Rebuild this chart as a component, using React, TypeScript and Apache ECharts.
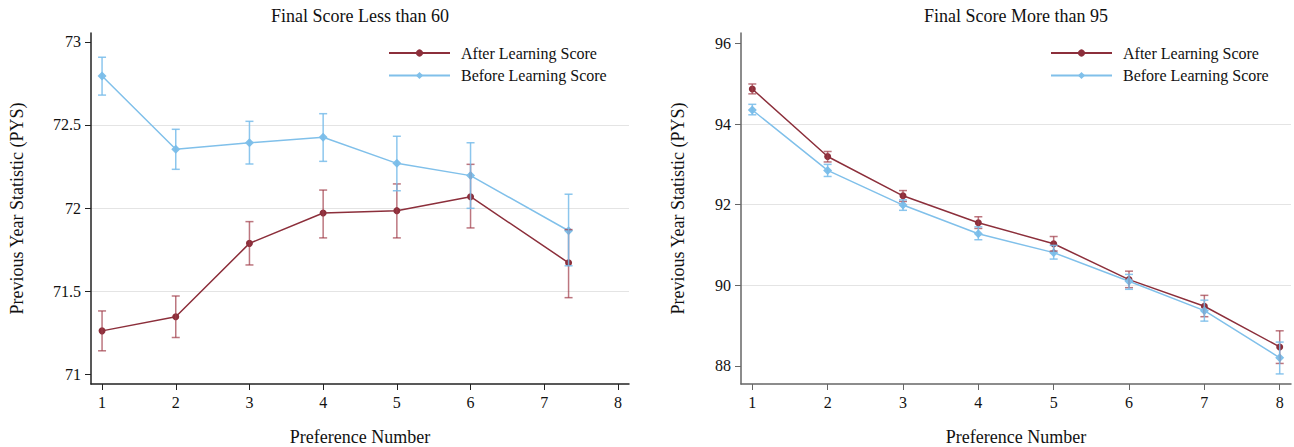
import React, { useEffect, useRef } from "react";
import * as echarts from "echarts";

const seriesNames = ["After Learning Score", "Before Learning Score"];
const titles = ["Final Score Less than 60", "Final Score More than 95"];
const xTicks = [1, 2, 3, 4, 5, 6, 7, 8];
const leftYTicks = [71, 71.5, 72, 72.5, 73];
const rightYTicks = [88, 90, 92, 94, 96];

const leftX = [1, 2, 3, 4, 5, 6, 7.33];
const leftAfter = [71.26, 71.345, 71.787, 71.97, 71.984, 72.068, 71.67];
const leftAfterLow = [71.14, 71.22, 71.657, 71.82, 71.82, 71.88, 71.46];
const leftAfterHigh = [71.38, 71.47, 71.918, 72.108, 72.145, 72.263, 71.87];
const leftBefore = [72.795, 72.354, 72.393, 72.426, 72.269, 72.195, 71.863];
const leftBeforeLow = [72.68, 72.233, 72.265, 72.281, 72.104, 71.998, 71.652];
const leftBeforeHigh = [72.908, 72.474, 72.522, 72.568, 72.432, 72.393, 72.083];

const rightX = [1, 2, 3, 4, 5, 6, 7, 8];
const rightAfter = [94.87, 93.196, 92.22, 91.55, 91.03, 90.14, 89.48, 88.47];
const rightAfterLow = [94.75, 93.06, 92.08, 91.41, 90.85, 89.94, 89.22, 88.06];
const rightAfterHigh = [94.995, 93.32, 92.35, 91.7, 91.21, 90.35, 89.75, 88.87];
const rightBefore = [94.35, 92.85, 91.99, 91.28, 90.81, 90.1, 89.37, 88.2];
const rightBeforeLow = [94.23, 92.7, 91.86, 91.13, 90.65, 89.9, 89.11, 87.8];
const rightBeforeHigh = [94.49, 93.0, 92.12, 91.45, 90.99, 90.27, 89.63, 88.59];

const FONT = "'Liberation Serif', 'Times New Roman', serif";
const RED = "#8c2f3b";
const RED_BAR = "rgba(160,60,72,0.7)";
const BLUE = "#80c0ea";
const BLUE_BAR = "rgba(120,188,234,0.85)";
const TXT = "#111";

function lineSeries(name: string, xs: number[], ys: number[], color: string, symbol: string, size: number, idx: number) {
  return {
    type: "line",
    name,
    xAxisIndex: idx,
    yAxisIndex: idx,
    data: xs.map((x, i) => [x, ys[i]]),
    symbol,
    symbolSize: size,
    showAllSymbol: true,
    lineStyle: { color, width: 1.5 },
    itemStyle: { color },
    z: 2,
  };
}

function errSeries(name: string, xs: number[], lo: number[], hi: number[], color: string, idx: number) {
  return {
    type: "custom",
    name,
    xAxisIndex: idx,
    yAxisIndex: idx,
    silent: true,
    z: 3,
    data: xs.map((x, i) => [x, lo[i], hi[i]]),
    encode: { x: 0, y: [1, 2] },
    renderItem: (_p: any, api: any) => {
      const x = api.value(0);
      const a = api.coord([x, api.value(1)]);
      const b = api.coord([x, api.value(2)]);
      const hw = 4;
      const st = { stroke: color, lineWidth: 1.5 };
      return {
        type: "group",
        children: [
          { type: "line", shape: { x1: a[0], y1: a[1], x2: b[0], y2: b[1] }, style: st },
          { type: "line", shape: { x1: a[0] - hw, y1: a[1], x2: a[0] + hw, y2: a[1] }, style: st },
          { type: "line", shape: { x1: b[0] - hw, y1: b[1], x2: b[0] + hw, y2: b[1] }, style: st },
        ],
      };
    },
  };
}

function xAxis(idx: number, axisColor: string) {
  return {
    type: "value",
    gridIndex: idx,
    min: 0.85,
    max: 8.15,
    axisLine: { show: true, onZero: false, lineStyle: { color: axisColor, width: 1.5 } },
    axisTick: { show: true, length: 6, customValues: xTicks, lineStyle: { color: axisColor, width: 1 } },
    axisLabel: { customValues: xTicks, fontSize: 16, color: TXT, fontFamily: FONT, margin: 10 },
    splitLine: { show: false },
    name: "Preference Number",
    nameLocation: "middle",
    nameGap: 44,
    nameTextStyle: { fontSize: 18, color: TXT, fontFamily: FONT },
  };
}

function yAxis(idx: number, min: number, max: number, ticks: number[], axisColor: string, gap: number) {
  return {
    type: "value",
    gridIndex: idx,
    min,
    max,
    axisLine: { show: true, onZero: false, lineStyle: { color: axisColor, width: 1.5 } },
    axisTick: { show: true, length: 6, customValues: ticks, lineStyle: { color: axisColor, width: 1 } },
    axisLabel: { customValues: ticks, fontSize: 16, color: TXT, fontFamily: FONT, margin: 10 },
    splitLine: { show: true, showMinLine: false, showMaxLine: false, lineStyle: { color: "#e4e4e4", width: 1 } },
    name: "Previous Year Statistic (PYS)",
    nameLocation: "middle",
    nameGap: gap,
    nameTextStyle: { fontSize: 18, color: TXT, fontFamily: FONT },
  };
}

function legend(left: number) {
  return {
    orient: "vertical",
    left,
    top: 41,
    backgroundColor: "#fff",
    padding: [4, 10, 3, 7],
    itemGap: 6.5,
    itemWidth: 61,
    itemHeight: 9,
    data: seriesNames,
    textStyle: { fontSize: 16, color: TXT, fontFamily: FONT, padding: [0, 0, 0, 6] },
  };
}

export default function App() {
  const ref = useRef<HTMLDivElement>(null);
  useEffect(() => {
    if (!ref.current) return;
    const chart = echarts.init(ref.current, undefined, { renderer: "svg" });
    chart.setOption({
      animation: false,
      backgroundColor: "#fff",
      title: [
        { text: titles[0], left: 360, textAlign: "center", top: 7, padding: 0, textStyle: { fontSize: 18, fontWeight: "normal", color: TXT, fontFamily: FONT } },
        { text: titles[1], left: 1016, textAlign: "center", top: 7, padding: 0, textStyle: { fontSize: 18, fontWeight: "normal", color: TXT, fontFamily: FONT } },
      ],
      legend: [legend(381), legend(1043)],
      grid: [
        { left: 91, right: 665, top: 33, bottom: 63, containLabel: false, outerBoundsMode: "none" },
        { left: 741, right: 3, top: 33, bottom: 63, containLabel: false, outerBoundsMode: "none" },
      ],
      xAxis: [xAxis(0, "#222"), xAxis(1, "#666")],
      yAxis: [
        yAxis(0, 70.94, 73.054, leftYTicks, "#222", 65),
        yAxis(1, 87.55, 96.26, rightYTicks, "#666", 54),
      ],
      series: [
        lineSeries(seriesNames[0], leftX, leftAfter, RED, "circle", 7, 0),
        lineSeries(seriesNames[1], leftX, leftBefore, BLUE, "diamond", 9, 0),
        errSeries("After CI L", leftX, leftAfterLow, leftAfterHigh, RED_BAR, 0),
        errSeries("Before CI L", leftX, leftBeforeLow, leftBeforeHigh, BLUE_BAR, 0),
        lineSeries(seriesNames[0], rightX, rightAfter, RED, "circle", 7, 1),
        lineSeries(seriesNames[1], rightX, rightBefore, BLUE, "diamond", 9, 1),
        errSeries("After CI R", rightX, rightAfterLow, rightAfterHigh, RED_BAR, 1),
        errSeries("Before CI R", rightX, rightBeforeLow, rightBeforeHigh, BLUE_BAR, 1),
      ],
    });
    return () => chart.dispose();
  }, []);
  return <div ref={ref} style={{ position: "absolute", left: 0, top: 0, width: 1294, height: 447 }} />;
}
